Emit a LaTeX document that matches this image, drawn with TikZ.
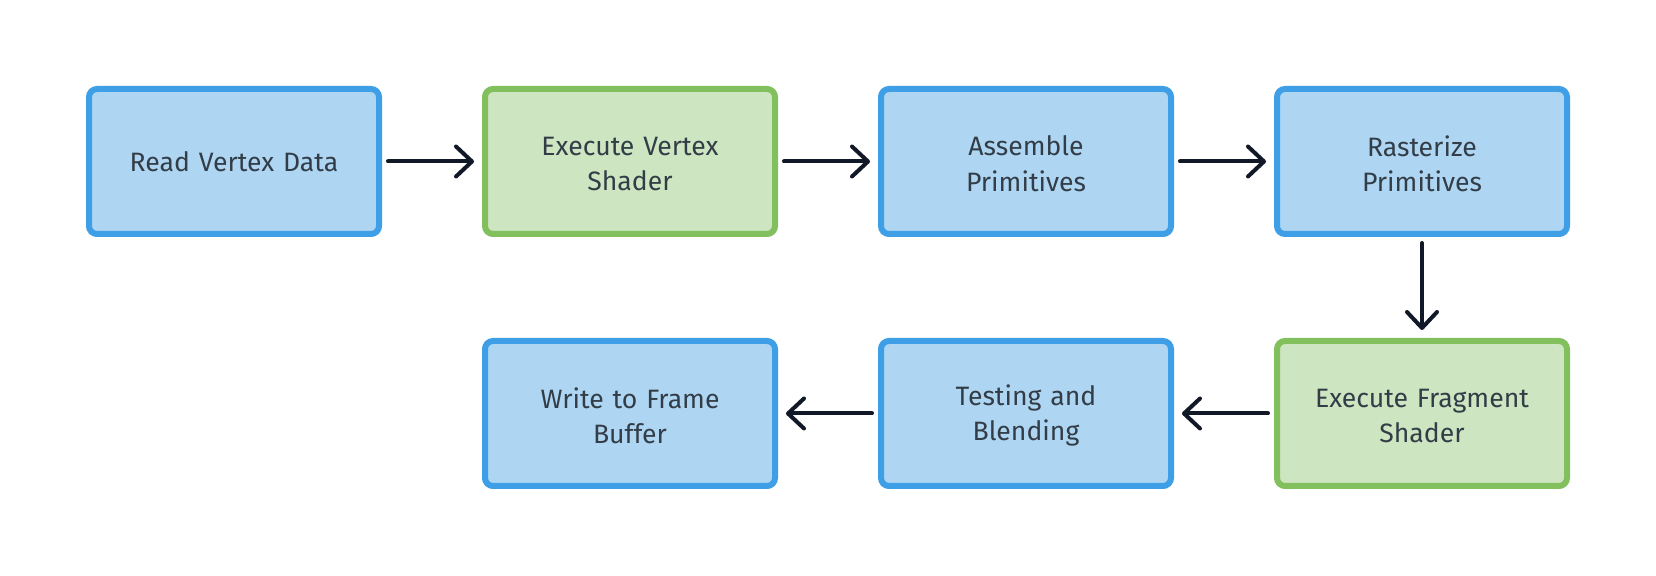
\documentclass[tikz,border=0pt]{standalone}
\usepackage{fontspec}
\setmainfont{Fira Sans}
\usetikzlibrary{arrows.meta,shadows}
\definecolor{bfill}{HTML}{AED6F3}
\definecolor{bdraw}{HTML}{3E9FE6}
\definecolor{gfill}{HTML}{CDE5C1}
\definecolor{gdraw}{HTML}{82BF5D}
\definecolor{txt}{HTML}{333D47}
\definecolor{arr}{HTML}{111827}
\begin{document}
\begin{tikzpicture}[x=0.5pt,y=-0.5pt,
  stage/.style={rectangle, rounded corners=4pt, line width=3pt,
    minimum width=145pt, minimum height=72.5pt, inner sep=0pt,
    text width=140pt, align=center, text=txt,
    font=\fontsize{13.3pt}{17.6pt}\selectfont,
    execute at end node={\endgraf\vspace*{-2.2pt}},
    drop shadow={opacity=0.12, shadow xshift=0pt, shadow yshift=-1.5pt}},
  bluebox/.style={stage, fill=bfill, draw=bdraw},
  greenbox/.style={stage, fill=gfill, draw=gdraw},
  flow/.style={draw=arr, line width=2pt, line cap=round,
    -{Straight Barb[length=8pt,width=15pt,line cap=round,round]},
    shorten <=3pt, shorten >=4pt}]
\useasboundingbox[fill=white] (0,0) rectangle (1656,576);
\node[bluebox]  (a) at (234,161.5)  {Read Vertex Data};
\node[greenbox] (b) at (630,161.5)  {Execute Vertex\\Shader};
\node[bluebox]  (c) at (1026,161.5) {Assemble\\Primitives};
\node[bluebox]  (d) at (1422,161.5) {Rasterize\\Primitives};
\node[greenbox] (e) at (1422,413.5) {Execute Fragment\\Shader};
\node[bluebox]  (f) at (1026,413.5) {Testing and\\Blending};
\node[bluebox]  (g) at (630,413.5)  {Write to Frame\\Buffer};
\draw[flow] (a) -- (b);
\draw[flow] (b) -- (c);
\draw[flow] (c) -- (d);
\draw[flow] (d) -- (e);
\draw[flow] (e) -- (f);
\draw[flow] (f) -- (g);
\end{tikzpicture}
\end{document}
